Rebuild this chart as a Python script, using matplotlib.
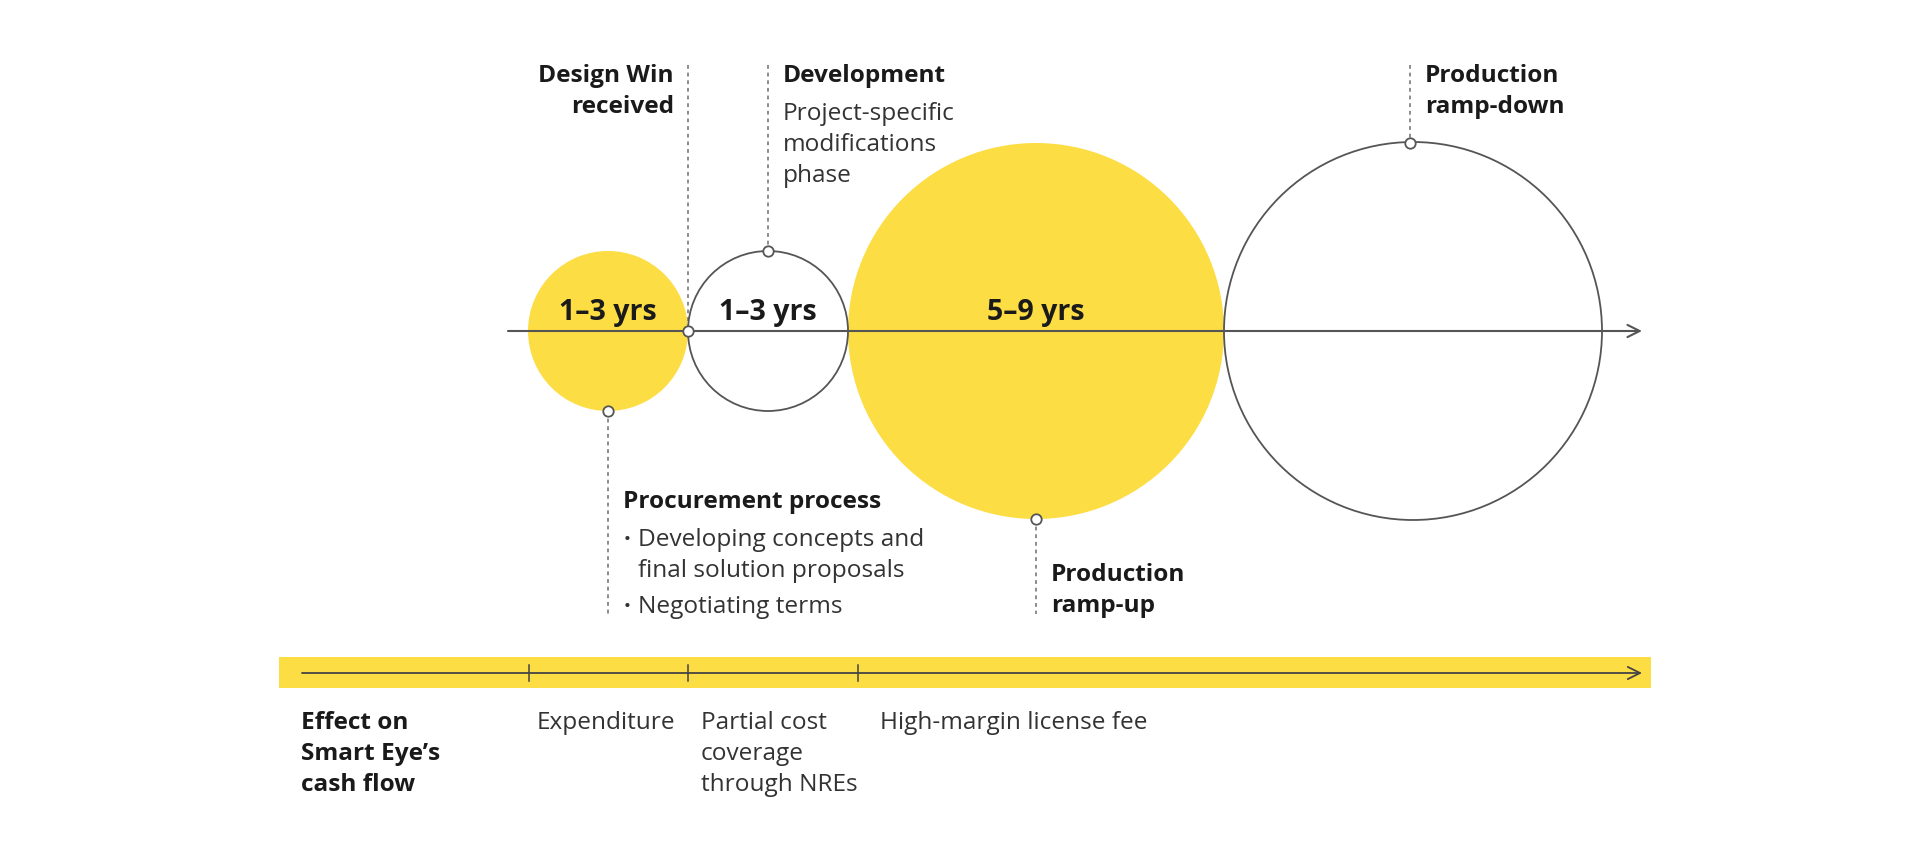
import matplotlib
matplotlib.use("Agg")
import matplotlib.pyplot as plt
from matplotlib.patches import Circle, Rectangle

plt.rcParams['font.family'] = ['Open Sans', 'DejaVu Sans']

# phases along the timeline
durations = ["1–3 yrs", "1–3 yrs", "5–9 yrs", ""]
radii = [80, 80, 188, 189]
filled = [True, False, True, False]

# milestone callouts
milestones = ["Design Win\nreceived", "Development", "Procurement process",
              "Production\nramp-up", "Production\nramp-down"]
dev_note = ["Project-specific", "modifications", "phase"]
procurement_items = ["Developing concepts and\nfinal solution proposals",
                     "Negotiating terms"]

# cash flow row
cash_title = ["Effect on", "Smart Eye’s", "cash flow"]
cash_labels = ["Expenditure", "Partial cost\ncoverage\nthrough NREs",
               "High-margin license fee"]

YELLOW = "#FDDD44"
LINE = "#555555"
DASH = "#6e6e6e"
TEXT = "#1a1a1a"
BODY = "#333333"
FS = 17.6

fig = plt.figure(figsize=(19.2, 8.5), dpi=100)
ax = fig.add_axes([0, 0, 1, 1])
ax.set_xlim(0, 1920)
ax.set_ylim(850, 0)
ax.set_aspect("equal")
ax.axis("off")

axis_y = 331
x_left = 528

# circles placed edge to edge
centers = []
edge = x_left
for r, fill in zip(radii, filled):
    cx = edge + r
    centers.append(cx)
    if fill:
        ax.add_patch(Circle((cx, axis_y), r, facecolor=YELLOW, edgecolor="none", zorder=1))
    else:
        ax.add_patch(Circle((cx, axis_y), r, facecolor="none", edgecolor=LINE, lw=1.3, zorder=3))
    edge = cx + r

# main time axis
ax.annotate("", xy=(1642, axis_y), xytext=(508, axis_y),
            arrowprops=dict(arrowstyle="->", color=LINE, lw=1.5,
                            mutation_scale=22, shrinkA=0, shrinkB=0), zorder=2)

for cx, txt in zip(centers, durations):
    ax.text(cx, axis_y - 11, txt, ha="center", va="baseline", fontsize=20.5,
            fontweight="bold", color=TEXT, zorder=4)

def dashed(x, y0, y1):
    ax.plot([x, x], [y0, y1], color=DASH, lw=1.1, ls=(0, (2.5, 2.5)), zorder=2)

def dot(x, y):
    ax.plot(x, y, "o", ms=7.5, mfc="white", mec=LINE, mew=1.3, zorder=5)

def bold(x, y, s, ha="left"):
    ax.text(x, y, s, ha=ha, va="baseline", fontsize=FS, fontweight="bold", color=TEXT)

def body(x, y, s):
    ax.text(x, y, s, ha="left", va="baseline", fontsize=FS, color=BODY)

# Design Win received (touch point of first two circles)
dw_x = centers[0] + radii[0]
dashed(dw_x, 65, axis_y)
dot(dw_x, axis_y)
l1, l2 = milestones[0].split("\n")
bold(674, 82, l1, ha="right")
bold(674, 113, l2, ha="right")

# Development (top of second circle)
dv_x = centers[1]
dashed(dv_x, 65, axis_y - radii[1])
dot(dv_x, axis_y - radii[1])
bold(783, 82, milestones[1])
for i, s in enumerate(dev_note):
    body(783, 120 + 31 * i, s)

# Procurement process (bottom of first circle)
pc_x = centers[0]
dot(pc_x, axis_y + radii[0])
dashed(pc_x, axis_y + radii[0], 614)
bold(623, 508, milestones[2])
by = 546
for item in procurement_items:
    ax.text(624, by, "·", ha="left", va="baseline", fontsize=FS, fontweight="bold", color=BODY)
    for s in item.split("\n"):
        body(638, by, s)
        by += 31
    by += 5

# Production ramp-up (bottom of big yellow circle)
ru_x = centers[2]
dot(ru_x, axis_y + radii[2])
dashed(ru_x, axis_y + radii[2], 614)
l1, l2 = milestones[3].split("\n")
bold(1051, 581, l1)
bold(1051, 612, l2)

# Production ramp-down (top of last circle)
rd_x = centers[3] - 3
dashed(rd_x, 65, axis_y - radii[3])
dot(rd_x, axis_y - radii[3] + 1)
l1, l2 = milestones[4].split("\n")
bold(1425, 82, l1)
bold(1425, 113, l2)

# cash flow band
band_y = 673
ax.add_patch(Rectangle((279, 657), 1651 - 279, 31, facecolor=YELLOW, edgecolor="none", zorder=1))
ax.annotate("", xy=(1642, band_y), xytext=(302, band_y),
            arrowprops=dict(arrowstyle="->", color="#444444", lw=1.3,
                            mutation_scale=22, shrinkA=0, shrinkB=0), zorder=2)
tick_x = [centers[0] - radii[0] + 1, centers[1] - radii[1], centers[2] - radii[2] + 10]
label_pad = [8, 13, 22]
for tx in tick_x:
    ax.plot([tx, tx], [665, 681], color="#444444", lw=1.1, zorder=2)

for i, s in enumerate(cash_title):
    bold(301, 729 + 31 * i, s)
for tx, pad, lab in zip(tick_x, label_pad, cash_labels):
    for j, s in enumerate(lab.split("\n")):
        body(tx + pad, 729 + 31 * j, s)

fig.savefig("out.png", dpi=100, facecolor="white")
